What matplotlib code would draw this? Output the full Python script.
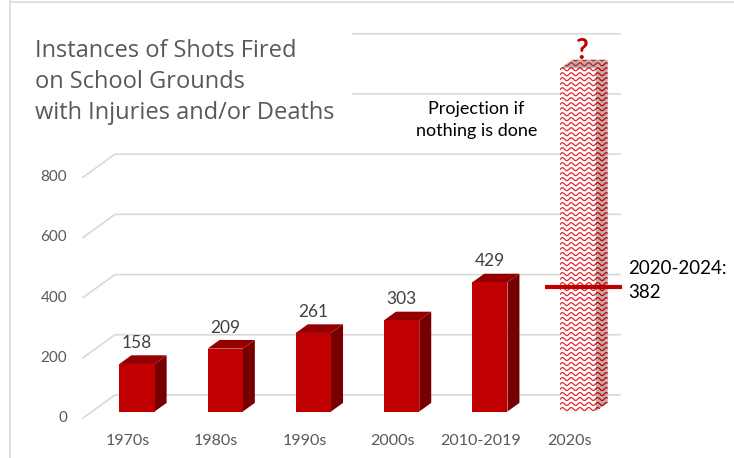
import matplotlib.pyplot as plt
import numpy as np
from matplotlib.patches import Polygon, Rectangle
from matplotlib.lines import Line2D

decades = ['1970s', '1980s', '1990s', '2000s', '2010-2019', '2020s']
incidents = [158, 209, 261, 303, 429]
projection = 1140
partial_value = 382
partial_label = '2020-2024:\n382'
grid_values = [0, 200, 400, 600, 800, 1000, 1200]
tick_labels = [0, 200, 400, 600, 800]

plt.rcParams['font.family'] = ['Lato', 'DejaVu Sans']

W, H = 734, 458
fig = plt.figure(figsize=(W / 100, H / 100), dpi=100)
ax = fig.add_axes([0, 0, 1, 1])
ax.axis('off')

# scale of the front plane: px per category and px per unit
px_x = 88.2
px_y = 0.301
x0_px, y0_px = 128, 40
ax.set_xlim(-x0_px / px_x, (W - x0_px) / px_x)
ax.set_ylim(-y0_px / px_y, (H - y0_px) / px_y)


def proj(x, v, d):
    # d = depth in px (0 = front edge, 32 = back wall), recedes up and right
    return x + d / px_x, v + 0.72 * d / px_y


grid_col = '#d9d9d9'
text_col = '#595959'
floor_l, floor_r = -0.51, 5.215
back = 32

# back wall gridlines + side wall diagonals
for v in grid_values:
    pts = [proj(floor_l, v, 0), proj(floor_l, v, back), proj(floor_r, v, back)]
    ax.plot([p[0] for p in pts], [p[1] for p in pts], color=grid_col, lw=1.2, zorder=1)
for v in tick_labels:
    ax.text(floor_l - 0.18, v, str(v), ha='right', va='center', fontsize=11,
            color=text_col, zorder=2)

d_front, d_back = 9, 21
half = 0.2


def box(i, v, front_col, side_col, top_col):
    front = [proj(i - half, 0, d_front), proj(i + half, 0, d_front),
             proj(i + half, v, d_front), proj(i - half, v, d_front)]
    side = [proj(i + half, 0, d_front), proj(i + half, 0, d_back),
            proj(i + half, v, d_back), proj(i + half, v, d_front)]
    top = [proj(i - half, v, d_front), proj(i + half, v, d_front),
           proj(i + half, v, d_back), proj(i - half, v, d_back)]
    ps = []
    for poly, col in [(side, side_col), (top, top_col), (front, front_col)]:
        p = Polygon(poly, closed=True, facecolor=col, edgecolor='none', zorder=4)
        ax.add_patch(p)
        ps.append(p)
    return ps


for i, v in enumerate(incidents):
    box(i, v, '#c00000', '#760000', '#940000')
    lx, ly = proj(i, v, d_front)
    ax.text(lx, ly + 70, str(v), ha='center', va='center', fontsize=12.5,
            color='#404040', zorder=5)

# projected bar with wavy pattern
k = len(incidents)
side_p, top_p, front_p = box(k, projection, 'white', '#c4a9a9', '#c4a9a9')
xs = np.linspace(k - 0.35, k + 0.6, 240)
for row in np.arange(-20, projection + 120, 16.6):
    for patch, col in [(front_p, '#e02630'), (side_p, '#c00000'), (top_p, '#b02020')]:
        ln, = ax.plot(xs, row + 5 * np.sin(2 * np.pi * (xs - k) / 0.1),
                      color=col, lw=0.9, zorder=4.5)
        ln.set_clip_path(patch)
ax.text(*proj(k, projection + 50, 12), '?', ha='center', va='center',
        fontsize=20, fontweight='bold', color='#c00000', zorder=5)

# 2020-2024 marker
mx0, my = proj(k - 0.52, partial_value, 22)
mx1, _ = proj(k + 0.35, partial_value, 22)
ax.plot([mx0, mx1], [my, my], color='#c00000', lw=3, solid_capstyle='butt', zorder=6)
ax.text(mx1 + 0.07, my + 22, partial_label, ha='left', va='center', fontsize=13.5,
        color='black', linespacing=1.45, zorder=6)

ax.text(3.95, 990, 'Projection if\nnothing is done', ha='center', va='center',
        fontsize=13, color='black', linespacing=1.45, zorder=6)

# category labels
for i, name in enumerate(decades):
    ax.text(i, -76, name, ha='center', va='center', fontsize=11.5, color=text_col)

# title area (white background covers upper axis)
fig.patches.append(Rectangle((11 / W, 1 - 140 / H), (352 - 11) / W, 136 / H,
                             transform=fig.transFigure, facecolor='white',
                             edgecolor='none', zorder=7))
fig.text(35 / W, 1 - 39 / H, 'Instances of Shots Fired\non School Grounds\nwith Injuries and/or Deaths',
         ha='left', va='top', fontsize=17, color=text_col, linespacing=1.4,
         family=['Open Sans', 'DejaVu Sans'], zorder=8)

# chart frame
fig.lines.append(Line2D([10 / W, 10 / W], [0, 1], transform=fig.transFigure,
                        color=grid_col, lw=1.2))
fig.lines.append(Line2D([10 / W, 1], [1 - 2 / H, 1 - 2 / H], transform=fig.transFigure,
                        color=grid_col, lw=1.2))

fig.savefig('out.png', dpi=100)
